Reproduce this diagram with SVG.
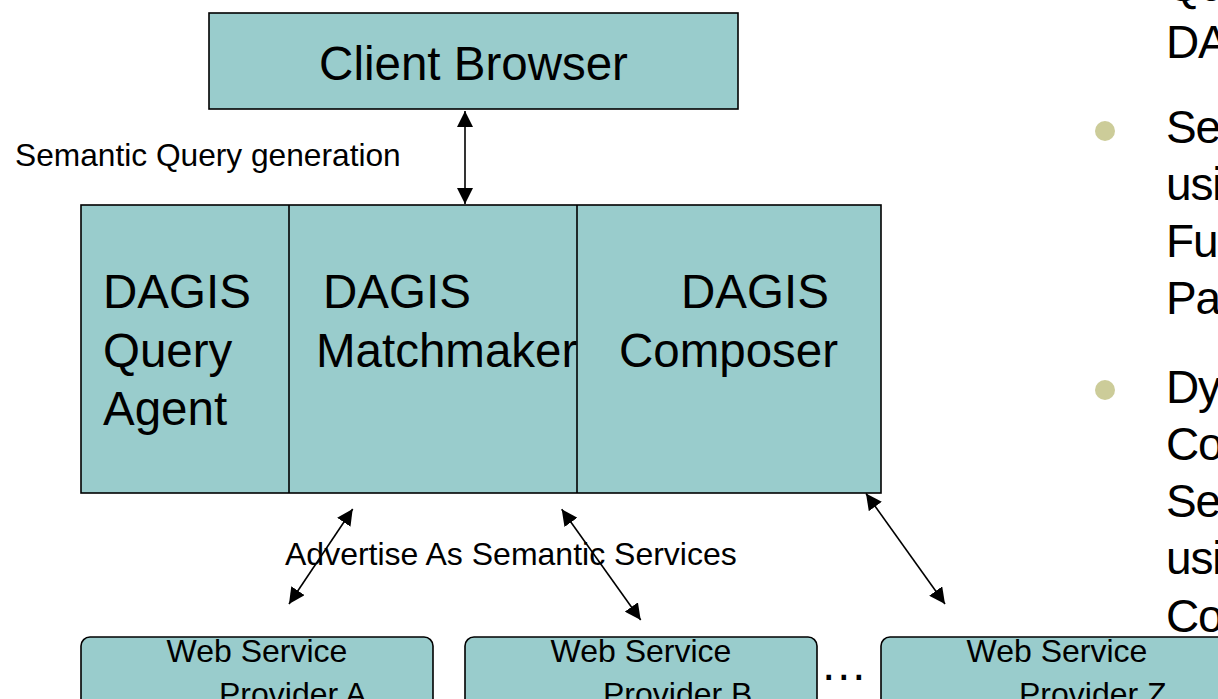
<svg xmlns="http://www.w3.org/2000/svg" width="1218" height="699" viewBox="0 0 1218 699">
  <style>
    text { font-family: "Liberation Sans", Arial, sans-serif; fill: #000; }
    .box { fill: #99cccc; stroke: #000; stroke-width: 1.6; }
    .div { stroke: #000; stroke-width: 1.6; fill: none; }
    .big { font-size: 47.5px; }
    .notes { font-size: 46px; letter-spacing: -1.2px; }
    .small { font-size: 32px; }
    .link { stroke: #000; stroke-width: 1.6; fill: none; marker-start: url(#head); marker-end: url(#head); }
    .bullet { fill: #cccc99; }
  </style>
  <defs>
    <marker id="head" viewBox="0 0 16 16" refX="16" refY="8" markerWidth="16" markerHeight="16" markerUnits="userSpaceOnUse" orient="auto-start-reverse">
      <path d="M0,0 L16,8 L0,16 Z" fill="#000"/>
    </marker>
  </defs>

  <!-- bullet text column, clipped by the right edge -->
  <g id="notes" class="notes">
    <text x="1166" y="1">Qu</text>
    <text x="1166" y="58">DA</text>
    <circle class="bullet" cx="1105" cy="131" r="10"/>
    <text x="1166" y="143">Se</text>
    <text x="1166" y="200">usi</text>
    <text x="1166" y="257">Fu</text>
    <text x="1166" y="314">Pa</text>
    <circle class="bullet" cx="1105" cy="390" r="10"/>
    <text x="1166" y="403">Dy</text>
    <text x="1166" y="460">Co</text>
    <text x="1166" y="517">Se</text>
    <text x="1166" y="574">usi</text>
    <text x="1166" y="632">Co</text>
  </g>

  <g id="client-browser">
    <rect class="box" x="209" y="13" width="529" height="96"/>
    <text class="big" x="473.5" y="80" text-anchor="middle">Client Browser</text>
  </g>

  <g id="dagis">
    <rect class="box" x="81" y="205" width="800" height="288"/>
    <line class="div" x1="289" y1="205" x2="289" y2="493"/>
    <line class="div" x1="577" y1="205" x2="577" y2="493"/>
  </g>
  <g id="query-agent" class="big">
    <text x="103" y="308">DAGIS</text>
    <text x="103" y="367">Query</text>
    <text x="103" y="425">Agent</text>
  </g>
  <g id="matchmaker" class="big">
    <text x="323" y="308">DAGIS</text>
    <text x="316" y="367">Matchmaker</text>
  </g>
  <g id="composer" class="big">
    <text x="681" y="308">DAGIS</text>
    <text x="619" y="367">Composer</text>
  </g>

  <g id="provider-a" class="small">
    <rect class="box" x="81" y="637" width="352" height="90" rx="9"/>
    <text x="257" y="662" text-anchor="middle">Web Service</text>
    <text x="219" y="705">Provider A</text>
  </g>
  <g id="provider-b" class="small">
    <rect class="box" x="465" y="637" width="352" height="90" rx="9"/>
    <text x="641" y="662" text-anchor="middle">Web Service</text>
    <text x="603" y="705">Provider B</text>
  </g>
  <text class="big" x="820" y="680">…</text>
  <g id="provider-z" class="small">
    <rect class="box" x="881" y="637" width="352" height="90" rx="9"/>
    <text x="1057" y="662" text-anchor="middle">Web Service</text>
    <text x="1019" y="705">Provider Z</text>
  </g>

  <g id="connectors">
    <line class="link" x1="465" y1="111" x2="465" y2="204"/>
    <line class="link" x1="352.7" y1="509" x2="289" y2="604"/>
    <line class="link" x1="561.7" y1="509.3" x2="640.7" y2="620"/>
    <line class="link" x1="866" y1="493.5" x2="945" y2="604"/>
    <text x="15" y="166" style="font-size:31.7px">Semantic Query generation</text>
    <text class="small" x="285" y="565">Advertise As Semantic Services</text>
  </g>
</svg>
